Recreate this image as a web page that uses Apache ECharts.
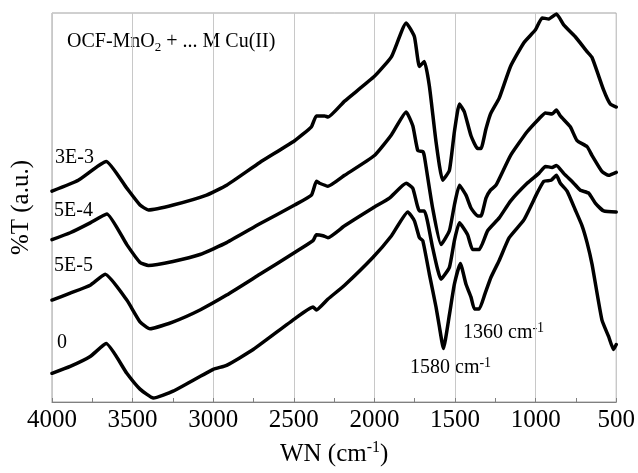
<!DOCTYPE html>
<html>
<head>
<meta charset="utf-8">
<script src="https://cdn.jsdelivr.net/npm/echarts@6/dist/echarts.min.js"></script>
<style>
  html, body { margin: 0; padding: 0; background: #fff; }
  #chart { width: 638px; height: 473px; }
</style>
</head>
<body>
<div id="chart"></div>
<script>
// wavenumbers (cm-1) and %T (a.u., offset)
const wn3e3 = [4000,3837,3664,3536,3454,3402,3248,3041,2917,2711,2495,2391,2360,2309,2288,2185,2000,1894,1803,1752,1721,1690,1659,1618,1577,1535,1504,1473,1442,1401,1360,1339,1308,1280,1226,1156,1073,1001,960,918,871,826,754,681,650,578,537,500];
const t3e3  = [213,224,243,216,199,194,199,209,219,242,264,278,289,289,288,304,329,349,383,369,339,344,319,263,224,234,273,301,293,269,256,256,276,291,307,339,363,376,388,387,392,381,369,354,348,315,301,298];

const wn5e4 = [4000,3887,3763,3660,3536,3454,3402,3250,3082,2917,2711,2495,2391,2360,2340,2288,2185,2000,1894,1803,1762,1731,1700,1690,1639,1587,1535,1504,1473,1432,1401,1360,1339,1308,1280,1246,1156,1053,980,939,898,871,847,785,743,681,650,589,547,500];
const t5e4  = [164,171,181,190,159,141,138,142,149,161,180,199,209,223,221,218,229,249,270,293,279,254,253,248,196,159,173,199,219,209,196,188,188,206,214,219,249,273,286,292,291,295,289,278,264,258,249,233,229,232];

const wn5e5 = [4000,3887,3763,3670,3536,3454,3392,3248,3082,2917,2711,2495,2381,2360,2319,2288,2185,2010,1907,1803,1762,1721,1690,1639,1587,1535,1504,1473,1422,1391,1350,1298,1226,1156,1053,980,939,898,871,826,764,723,671,630,578,500];
const t5e5  = [103,110,118,129,103,81,74,81,93,108,129,151,163,169,168,166,178,196,206,221,216,193,193,156,124,136,163,181,169,154,154,173,186,203,221,231,238,237,239,231,221,214,211,201,193,192];

const wn0 = [4000,3887,3763,3664,3536,3454,3371,3249,3000,2917,2752,2495,2381,2360,2288,2185,2010,1894,1793,1752,1721,1700,1659,1618,1597,1572,1535,1504,1467,1432,1401,1380,1350,1315,1277,1226,1164,1073,991,949,904,871,847,805,754,712,681,650,589,547,517,500];
const t0  = [29,36,46,59,29,13,4,11,33,37,53,84,96,93,104,118,146,168,192,183,166,163,129,96,76,54,88,119,140,119,106,94,94,109,126,143,166,184,211,223,224,229,221,213,194,178,161,139,83,66,53,58];

const sampleNames = ["3E-3", "5E-4", "5E-5", "0"];

const serif = '"Liberation Serif", "Times New Roman", serif';

function zip(xs, ys) {
  return xs.map((x, i) => [x, ys[i]]);
}

function spectrum(name, xs, ys) {
  return {
    name: name,
    type: "line",
    data: zip(xs, ys),
    showSymbol: false,
    smooth: 0.15,
    lineStyle: { color: "#000", width: 3.5, cap: "round", join: "round" },
    itemStyle: { color: "#000" },
  };
}

const chart = echarts.init(document.getElementById("chart"));

const option = {
  animation: false,
  grid: {
    left: 52, right: 21, top: 13, bottom: 67,
    show: true, borderColor: "#a0a0a0", borderWidth: 1,
  },
  xAxis: {
    type: "value",
    min: 500, max: 4000, interval: 500,
    inverse: true,
    name: "WN (cm{sup|-1})",
    nameLocation: "middle",
    nameGap: 38,
    nameTextStyle: {
      fontFamily: serif, fontSize: 25, color: "#000", lineHeight: 28,
      rich: { sup: { fontFamily: serif, fontSize: 16, color: "#000", verticalAlign: "top", lineHeight: 12 } },
    },
    axisLine: { show: true, lineStyle: { color: "#808080", width: 1 } },
    axisTick: { show: true, inside: true, length: 4, lineStyle: { color: "#808080" } },
    minorTick: { show: true, splitNumber: 2, length: 4, lineStyle: { color: "#808080" } },
    axisLabel: {
      fontFamily: serif, fontSize: 25, color: "#000", margin: 6,
      formatter: (v) => String(v),
    },
    splitLine: { show: true, lineStyle: { color: "#c8c8c8", width: 1 } },
  },
  yAxis: {
    type: "value",
    min: 0, max: 393,
    name: "%T (a.u.)",
    nameLocation: "middle",
    nameRotate: 90,
    nameGap: 18,
    nameTextStyle: { fontFamily: serif, fontSize: 25, color: "#000" },
    axisLine: { show: false },
    axisTick: { show: false },
    axisLabel: { show: false },
    splitLine: { show: false },
  },
  series: [
    spectrum(sampleNames[0], wn3e3, t3e3),
    spectrum(sampleNames[1], wn5e4, t5e4),
    spectrum(sampleNames[2], wn5e5, t5e5),
    spectrum(sampleNames[3], wn0, t0),
  ],
  graphic: [
    {
      type: "text", x: 67, y: 42,
      style: {
        text: "OCF-MnO{sub|2} + ... M Cu(II)",
        fontFamily: serif, fontSize: 20, fill: "#000",
        align: "left", verticalAlign: "middle", lineHeight: 24,
        rich: { sub: { fontFamily: serif, fontSize: 13, fill: "#000", verticalAlign: "bottom", lineHeight: 10 } },
      },
    },
    { type: "text", x: 55, y: 158, style: { text: sampleNames[0], fontFamily: serif, fontSize: 20, fill: "#000", align: "left", verticalAlign: "middle" } },
    { type: "text", x: 54, y: 211, style: { text: sampleNames[1], fontFamily: serif, fontSize: 20, fill: "#000", align: "left", verticalAlign: "middle" } },
    { type: "text", x: 54, y: 266, style: { text: sampleNames[2], fontFamily: serif, fontSize: 20, fill: "#000", align: "left", verticalAlign: "middle" } },
    { type: "text", x: 57, y: 343, style: { text: sampleNames[3], fontFamily: serif, fontSize: 20, fill: "#000", align: "left", verticalAlign: "middle" } },
    {
      type: "text", x: 463, y: 333,
      style: {
        text: "1360 cm{sup|-1}",
        fontFamily: serif, fontSize: 20, fill: "#000",
        align: "left", verticalAlign: "middle", lineHeight: 24,
        rich: { sup: { fontFamily: serif, fontSize: 14, fill: "#000", verticalAlign: "top", lineHeight: 10 } },
      },
    },
    {
      type: "text", x: 410, y: 368,
      style: {
        text: "1580 cm{sup|-1}",
        fontFamily: serif, fontSize: 20, fill: "#000",
        align: "left", verticalAlign: "middle", lineHeight: 24,
        rich: { sup: { fontFamily: serif, fontSize: 14, fill: "#000", verticalAlign: "top", lineHeight: 10 } },
      },
    },
  ],
};

chart.setOption(option);
</script>
</body>
</html>
